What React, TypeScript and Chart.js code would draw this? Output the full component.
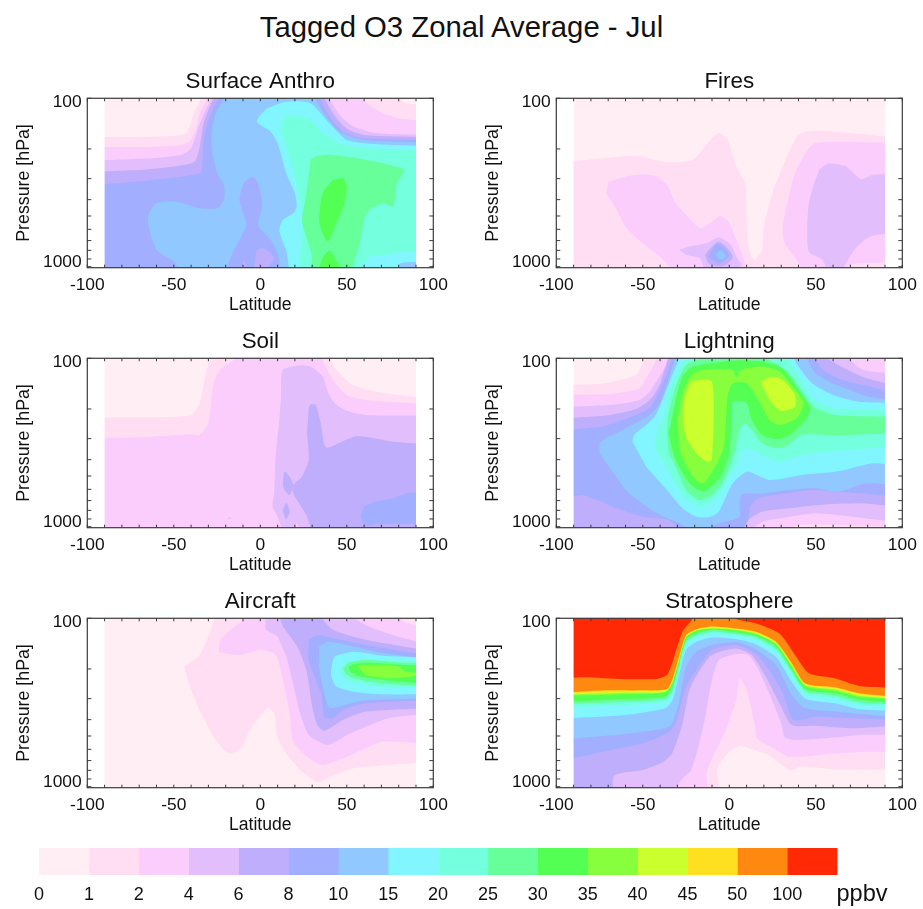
import React, { useEffect, useRef } from "react";
import { Chart, registerables } from "chart.js";

Chart.register(...registerables);
Chart.defaults.font.family = '"Liberation Sans", Arial, sans-serif';
Chart.defaults.color = "#111";

const mainTitle = "Tagged O3 Zonal Average - Jul";
const bandColors = ["#FFEEF3", "#FFDDF2", "#FACDFC", "#E3BEFC", "#BFAEFC", "#A2AEFF", "#90C8FF", "#82F6FF", "#74FFDE", "#66FF99", "#52FF52", "#88FF3D", "#CCFF2E", "#FFE020", "#FF8810", "#FF2A05"];
const bandLabels = ["0", "1", "2", "4", "6", "8", "10", "15", "20", "25", "30", "35", "40", "45", "50", "100", "ppbv"];
const barSlots = [0, 1, 2, 3, 4, 5, 6, 7, 8, 9, 10, 11, 12, 13, 14, 15, 16.5];
const latTicks = [-100, -90, -80, -70, -60, -50, -40, -30, -20, -10, 0, 10, 20, 30, 40, 50, 60, 70, 80, 90, 100];
const pressureTicks = [100, 200, 300, 400, 500, 600, 700, 800, 900, 1000];
const pressureLabels = [100, 1000];
const surfacePressure = 1014;
const domainEdge = 90;

// Contour regions, flat lists of latitude, pressure (hPa) pairs.
const full = [-95, 90, 95, 90, 95, 1100, -95, 1100];

const anthro1 = [-95, 170, -69, 170, -48, 167, -42, 158, -39, 128, -36, 110, -32, 90, 79, 90, 83, 106, 95, 110, 95, 1100, -95, 1100];
const anthro2 = [-95, 195, -67, 195, -48, 191, -41, 181, -37, 151, -35, 123, -28, 90, 52, 90, 67, 117, 79, 131, 95, 136, 95, 1100, -95, 1100];
const anthro3 = [-95, 234, -63, 227, -46, 217, -40, 198, -36, 151, -33, 126, -26, 90, 37, 90, 46, 126, 54, 147, 67, 161, 95, 165, 95, 1100, -95, 1100];
const anthro4 = [-95, 273, -69, 266, -48, 252, -38, 238, -35, 194, -33, 144, -30, 117, -25, 90, 35, 90, 42, 123, 50, 151, 60, 165, 95, 170, 95, 1100, -95, 1100];
const anthro5 = [-95, 327, -73, 313, -54, 299, -40, 285, -34, 273, -33, 185, -30, 134, -22, 90, 32, 90, 40, 128, 48, 158, 60, 173, 95, 177, 95, 1100, -95, 1100];
const anthro6 = [-17, 90, -25, 117, -28, 154, -28, 203, -25, 279, -21, 327, -21, 401, -25, 450, -35, 450, -48, 411, -60, 420, -65, 505, -64, 605, -60, 796, -50, 934, -45, 1100, 95, 1100, 95, 183, 60, 177, 46, 158, 38, 128, 29, 90];
const anthro5b = [-20, 1100, -17, 872, -9, 605, -8, 553, -12, 401, -9, 313, -4, 292, -1, 327, 1, 430, -1, 528, -1, 579, 6, 694, 10, 833, 11, 955, 10, 1100];
const anthro4b = [-4, 1100, -3, 912, -2, 796, 2, 778, 8, 892, 1, 1100];
const anthro4c = [-11, 1100, -10, 934, -9, 934, -8, 1100];
const anthro7 = [95, 192, 63, 186, 50, 177, 40, 141, 29, 107, 15, 105, 3, 117, -2, 138, 6, 158, 10, 185, 15, 279, 20, 367, 21, 440, 19, 482, 13, 528, 11, 605, 13, 710, 15, 796, 17, 1100, 79, 1100, 81, 955, 95, 934];
const anthro8 = [12, 134, 17, 126, 29, 134, 36, 161, 48, 189, 61, 198, 95, 203, 95, 833, 83, 814, 73, 852, 63, 872, 59, 977, 58, 1100, 24, 1100, 23, 912, 24, 634, 24, 505, 23, 401, 20, 292, 16, 212, 12, 158];
const anthro9 = [29, 232, 33, 220, 42, 217, 61, 232, 83, 266, 79, 320, 77, 440, 75, 435, 71, 420, 63, 460, 60, 528, 57, 760, 52, 1100, 28, 1100, 30, 912, 29, 796, 26, 634, 24, 528, 26, 401, 28, 292];
const anthro10a = [42, 305, 48, 299, 50, 342, 48, 440, 43, 579, 39, 710, 36, 634, 34, 528, 36, 367, 42, 305];
const anthro10b = [33, 1100, 36, 892, 40, 803, 45, 955, 46, 1100];

const fires1 = [-95, 238, -77, 229, -54, 220, -35, 240, -21, 232, -11, 177, -6, 161, -1, 177, 4, 254, 9, 320, 10, 528, 11, 760, 13, 872, 15, 912, 19, 796, 20, 579, 25, 367, 31, 254, 40, 165, 50, 156, 95, 170, 95, 1100, -95, 1100];
const fires2a = [-70, 313, -60, 292, -50, 283, -42, 292, -36, 327, -31, 420, -23, 516, -17, 592, -11, 553, -5, 499, 0, 553, 4, 694, 8, 872, 10, 1100, -31, 1100, -40, 872, -50, 727, -60, 579, -65, 460, -71, 367];
const fires2b = [95, 184, 50, 184, 44, 212, 38, 279, 34, 401, 31, 579, 32, 727, 39, 912, 44, 1100, 67, 1100, 71, 964, 95, 947];
const fires3a = [-29, 796, -23, 760, -13, 727, -6, 672, 1, 743, 4, 872, 7, 977, 2, 1100, -14, 1100, -17, 892, -25, 852];
const fires3b = [52, 266, 57, 244, 67, 252, 71, 273, 76, 302, 83, 285, 95, 283, 95, 627, 81, 665, 73, 778, 64, 1100, 57, 1100, 54, 912, 46, 814, 45, 579, 46, 420, 49, 320];
const fires4 = [-14, 852, -10, 760, -6, 710, -1, 778, 2, 880, -2, 977, -7, 995, -12, 955, -14, 852];
const fires5 = [-12, 872, -7, 727, 0, 852, -6, 955, -12, 872];
const fires6 = [-8, 852, -5, 796, -2, 872, -5, 905, -8, 852];

const soil1 = [-95, 227, -83, 224, -63, 224, -40, 217, -35, 185, -31, 117, -27, 90, 40, 90, 42, 110, 52, 141, 67, 158, 95, 173, 95, 1100, -95, 1100];
const soil2 = [-95, 299, -63, 292, -40, 283, -35, 285, -30, 244, -27, 141, -23, 117, -7, 90, 33, 90, 42, 134, 50, 165, 61, 177, 95, 187, 95, 1100, -95, 1100];
const soil3 = [12, 138, 13, 117, 23, 110, 29, 112, 36, 128, 39, 158, 43, 184, 50, 205, 61, 217, 95, 219, 95, 1100, 13, 1100, 12, 995, 10, 872, 7, 760, 8, 634, 9, 367, 11, 232, 12, 169];
const soil2b = [19, 1100, 21, 955, 24, 1100];
const soil4 = [28, 198, 29, 189, 32, 189, 35, 244, 37, 327, 39, 340, 54, 292, 61, 292, 77, 313, 95, 322, 95, 1100, 30, 1100, 27, 872, 23, 743, 19, 634, 19, 565, 24, 505, 28, 401, 27, 279];
const soil4b = [13, 565, 14, 471, 17, 505, 19, 565, 17, 648, 14, 605, 13, 565];
const soil4c = [13, 796, 15, 720, 17, 814, 15, 905, 14, 872, 13, 796];
const soil3b = [-19, 892, -18, 875, -17, 892, -18, 905, -19, 892];
const soil5 = [58, 872, 60, 760, 67, 710, 77, 678, 85, 634, 95, 627, 95, 964, 69, 964, 60, 995];

const light1 = [-95, 144, -73, 141, -54, 126, -50, 107, -45, 90, 95, 90, 95, 1100, -95, 1100];
const light2 = [-95, 165, -69, 163, -52, 151, -48, 131, -43, 107, -40, 90, 95, 90, 95, 1100, -95, 1100];
const light2b = [95, 1100, 30, 1100, 38, 990, 50, 970, 70, 985, 95, 1000];
const light3 = [-95, 195, -67, 189, -52, 177, -46, 158, -41, 131, -36, 107, -35, 90, 64, 90, 77, 117, 95, 123, 95, 934, 71, 872, 50, 833, 35, 872, 19, 934, 10, 1100, -95, 1100];
const light4 = [-95, 227, -69, 217, -53, 198, -45, 173, -40, 141, -34, 90, 50, 90, 61, 107, 79, 131, 95, 144, 95, 760, 77, 727, 52, 743, 35, 778, 19, 814, 11, 912, 7, 1100, -95, 1100];
const light5 = [-95, 266, -73, 254, -56, 222, -46, 198, -41, 161, -36, 123, -32, 90, 46, 90, 54, 117, 65, 134, 81, 147, 95, 161, 95, 665, 77, 634, 61, 620, 48, 605, 33, 634, 17, 678, 12, 760, 11, 912, 6, 1100, -27, 1100, -35, 912, -50, 872, -65, 778, -85, 648, -95, 686];
const light6 = [-75, 320, -73, 305, -58, 254, -46, 217, -40, 184, -36, 141, -30, 90, 42, 90, 50, 123, 60, 141, 81, 169, 95, 177, 95, 565, 79, 553, 63, 620, 50, 592, 38, 600, 20, 634, 7, 648, 6, 760, 6, 872, 2, 912, -6, 955, -10, 1014, -10, 1100, -19, 1100, -29, 955, -42, 833, -58, 634, -67, 482, -75, 367];
const light7 = [-56, 313, -55, 285, -48, 249, -43, 222, -38, 169, -33, 126, -27, 90, 35, 90, 40, 112, 48, 141, 60, 165, 75, 181, 95, 184, 95, 430, 83, 420, 62, 471, 42, 493, 23, 528, 11, 471, 7, 493, 2, 553, -2, 665, -6, 814, -11, 872, -19, 872, -27, 778, -36, 605, -48, 440];
const light8 = [-43, 342, -42, 285, -38, 222, -35, 158, -29, 117, -23, 90, 31, 90, 37, 112, 42, 138, 48, 173, 60, 198, 95, 203, 95, 335, 61, 355, 42, 375, 29, 411, 19, 375, 11, 342, 7, 358, 4, 440, 0, 505, -4, 605, -10, 710, -17, 760, -27, 648, -36, 450];
const light9 = [-36, 279, -35, 212, -30, 138, -25, 110, -17, 101, -2, 101, 10, 97, 23, 102, 36, 128, 44, 169, 50, 198, 61, 217, 95, 222, 95, 279, 61, 287, 42, 285, 33, 332, 27, 342, 19, 320, 13, 266, 9, 244, 6, 266, 3, 367, 0, 440, -4, 553, -10, 648, -17, 694, -25, 605, -31, 440, -35, 367];
const light10 = [-34, 254, -31, 177, -27, 128, -21, 112, 4, 103, 19, 105, 31, 115, 40, 154, 47, 198, 44, 232, 35, 285, 28, 302, 19, 285, 13, 232, 10, 184, 2, 181, 1, 254, 0, 367, -5, 505, -15, 620, -23, 553, -31, 401, -35, 279, -34, 254];
const light11 = [-30, 232, -27, 161, -22, 126, -15, 117, 2, 117, 4, 130, 7, 117, 19, 112, 29, 120, 38, 154, 43, 184, 39, 227, 29, 249, 23, 232, 17, 177, 10, 141, 2, 141, -1, 169, -3, 335, -7, 420, -15, 553, -21, 505, -28, 367, -30, 232];
const light12a = [-27, 232, -26, 177, -22, 138, -10, 138, -10, 401, -13, 411, -19, 367, -25, 292, -27, 232];
const light12b = [18, 138, 24, 129, 31, 134, 38, 165, 38, 195, 30, 205, 24, 181, 18, 138];

const air1 = [-44, 194, -35, 165, -30, 128, -25, 90, 95, 90, 95, 717, 54, 778, 40, 872, 33, 934, 23, 796, 15, 634, 10, 505, 8, 367, 4, 342, -6, 460, -11, 592, -17, 634, -21, 605, -27, 505, -35, 350, -40, 266, -44, 194];
const air2 = [-24, 158, -23, 134, -17, 117, -11, 105, -5, 90, 79, 90, 83, 105, 95, 112, 95, 553, 71, 540, 61, 592, 50, 665, 36, 743, 27, 665, 19, 540, 17, 367, 13, 232, 9, 165, 0, 154, -11, 165, -19, 163];
const air3 = [3, 117, 3, 90, 48, 90, 61, 110, 77, 126, 95, 141, 95, 371, 75, 389, 61, 440, 50, 493, 39, 565, 28, 493, 23, 367, 19, 244, 15, 169, 10, 128];
const air4 = [10, 90, 32, 90, 42, 117, 61, 134, 95, 154, 95, 342, 61, 358, 48, 401, 37, 467, 33, 430, 30, 335, 27, 212, 22, 151, 13, 112];
const air5 = [28, 134, 33, 126, 42, 131, 61, 144, 95, 165, 95, 307, 61, 320, 48, 350, 42, 392, 37, 384, 35, 279, 28, 177, 28, 134];
const air6 = [34, 147, 39, 138, 54, 147, 71, 161, 95, 173, 95, 299, 61, 307, 49, 327, 40, 340, 37, 279, 34, 194, 34, 147];
const air7 = [41, 198, 43, 169, 54, 158, 71, 167, 95, 171, 95, 283, 71, 283, 54, 273, 44, 254, 41, 222, 41, 198];
const air8 = [47, 194, 50, 181, 61, 175, 77, 177, 95, 181, 95, 260, 71, 257, 52, 238, 47, 217, 47, 194];
const air9 = [48, 198, 51, 184, 61, 177, 79, 183, 95, 184, 95, 252, 71, 244, 54, 227, 49, 212, 48, 198];
const air10 = [51, 195, 54, 187, 65, 184, 81, 189, 95, 192, 95, 244, 71, 232, 58, 222, 52, 208, 51, 195];
const air11 = [56, 191, 67, 189, 80, 194, 84, 207, 95, 212, 95, 217, 75, 227, 61, 217, 56, 191];

const strat1 = [-95, 1100, -5, 1100, -7, 796, -2, 648, 6, 572, 17, 620, 23, 648, 35, 796, 42, 760, 61, 789, 95, 796, 95, 90, -95, 90];
const strat2 = [-95, 1100, -12, 1100, -13, 814, -2, 460, 4, 305, 6, 229, 10, 266, 15, 440, 16, 516, 24, 579, 35, 665, 61, 634, 81, 620, 95, 620, 95, 90, -95, 90];
const strat3 = [-95, 1100, -33, 1100, -27, 892, -22, 796, -15, 440, -10, 232, -6, 177, 4, 163, 11, 165, 17, 203, 23, 279, 30, 420, 32, 505, 38, 528, 61, 510, 75, 493, 95, 493, 95, 90, -95, 90];
const strat4 = [-95, 1100, -67, 1100, -67, 872, -61, 825, -50, 796, -38, 710, -33, 634, -27, 420, -23, 266, -17, 203, -10, 165, 4, 151, 13, 165, 21, 222, 29, 320, 36, 430, 50, 435, 71, 450, 95, 435, 95, 90, -95, 90];
const strat5 = [-95, 694, -73, 620, -50, 553, -36, 482, -31, 420, -25, 254, -19, 203, -10, 154, 4, 144, 15, 161, 23, 203, 31, 279, 37, 401, 50, 384, 71, 392, 95, 401, 95, 90, -95, 90];
const stratLats = [-95, -60, -37, -33, -29, -25, -19, -10, 4, 15, 27, 36, 44, 61, 75, 95];
const stratP6 = [522, 486, 450, 420, 313, 194, 158, 144, 139, 153, 189, 285, 342, 358, 370, 384];
const stratP7 = [393, 375, 342, 309, 217, 154, 138, 130, 133, 142, 170, 238, 300, 320, 347, 355];
const stratP8 = [337, 328, 313, 282, 206, 144, 130, 124, 127, 134, 158, 217, 282, 299, 327, 335];
const stratP9 = [322, 314, 302, 268, 192, 138, 126, 120, 124, 130, 152, 206, 271, 288, 315, 324];
const stratP10 = [313, 302, 292, 257, 184, 134, 123, 117, 121, 127, 147, 201, 264, 279, 305, 316];
const stratP11 = [289, 283, 276, 244, 177, 130, 119, 115, 118, 124, 143, 194, 254, 270, 293, 302];
const stratP12 = [284, 277, 273, 240, 175, 129, 118, 115, 117, 123, 141, 190, 250, 265, 288, 300];
const stratP13 = [279, 273, 267, 237, 172, 127, 117, 113, 116, 122, 139, 188, 247, 260, 283, 296];
const strat14 = [-95, 275, -73, 268, -54, 268, -36, 264, -33, 232, -29, 169, -25, 126, -19, 116, -10, 112, 4, 115, 15, 120, 27, 138, 36, 184, 44, 244, 61, 257, 75, 279, 95, 292, 95, 90, -95, 90];
const strat15a = [-95, 227, -83, 224, -61, 230, -42, 229, -36, 217, -33, 184, -27, 120, -21, 100, -20, 90, -95, 90];
const strat15b = [3, 90, 4, 101, 15, 107, 29, 123, 38, 165, 46, 212, 61, 227, 75, 252, 95, 258, 95, 90];

function above(ps: number[]) {
  const out: number[] = [];
  stratLats.forEach((lat, i) => out.push(lat, ps[i]));
  return out.concat([95, 90, -95, 90]);
}

type Region = [number, number[]];
const panels: { title: string; col: number; row: number; regions: Region[] }[] = [
  { title: "Surface Anthro", col: 0, row: 0, regions: [[0, full], [1, anthro1], [2, anthro2], [3, anthro3], [4, anthro4], [5, anthro5], [6, anthro6], [5, anthro5b], [4, anthro4b], [4, anthro4c], [7, anthro7], [8, anthro8], [9, anthro9], [10, anthro10a], [10, anthro10b]] },
  { title: "Fires", col: 1, row: 0, regions: [[0, full], [1, fires1], [2, fires2a], [2, fires2b], [3, fires3a], [3, fires3b], [4, fires4], [5, fires5], [6, fires6]] },
  { title: "Soil", col: 0, row: 1, regions: [[0, full], [1, soil1], [2, soil2], [3, soil3], [2, soil2b], [3, soil3b], [4, soil4], [4, soil4b], [4, soil4c], [5, soil5]] },
  { title: "Lightning", col: 1, row: 1, regions: [[0, full], [1, light1], [2, light2], [1, light2b], [3, light3], [4, light4], [5, light5], [6, light6], [7, light7], [8, light8], [9, light9], [10, light10], [11, light11], [12, light12a], [12, light12b]] },
  { title: "Aircraft", col: 0, row: 2, regions: [[0, full], [1, air1], [2, air2], [3, air3], [4, air4], [5, air5], [6, air6], [7, air7], [8, air8], [9, air9], [10, air10], [11, air11]] },
  { title: "Stratosphere", col: 1, row: 2, regions: [[0, full], [1, strat1], [2, strat2], [3, strat3], [4, strat4], [5, strat5], [6, above(stratP6)], [7, above(stratP7)], [8, above(stratP8)], [9, above(stratP9)], [10, above(stratP10)], [11, above(stratP11)], [12, above(stratP12)], [13, above(stratP13)], [14, strat14], [15, strat15a], [15, strat15b]] },
];

function toPoints(flat: number[]) {
  const pts: { x: number; y: number }[] = [];
  for (let i = 0; i < flat.length; i += 2) {
    const p = { x: flat[i], y: flat[i + 1] };
    pts.push(p);
    // Vertices outside the plotted domain are sharp corners of the closed outline.
    if (Math.abs(p.x) >= 95 || p.y <= 90 || p.y >= 1100) pts.push({ ...p });
  }
  return pts;
}

const frameColor = "#3a3a3a";
const panelPlugin = {
  id: "panelFrame",
  afterDatasetsDraw(chart: any) {
    const { ctx, chartArea: a, scales } = chart;
    const x = scales.x;
    const y = scales.y;
    ctx.save();
    ctx.fillStyle = "#fff";
    ctx.fillRect(a.left, a.top, x.getPixelForValue(-domainEdge) - a.left, a.bottom - a.top);
    const rx = x.getPixelForValue(domainEdge);
    ctx.fillRect(rx, a.top, a.right - rx, a.bottom - a.top);
    ctx.strokeStyle = frameColor;
    ctx.lineWidth = 1.2;
    ctx.strokeRect(a.left, a.top, a.right - a.left, a.bottom - a.top);
    ctx.lineWidth = 1;
    ctx.beginPath();
    latTicks.forEach((v) => {
      const px = x.getPixelForValue(v);
      ctx.moveTo(px, a.top);
      ctx.lineTo(px, a.top + 3);
      ctx.moveTo(px, a.bottom);
      ctx.lineTo(px, a.bottom - 3);
    });
    pressureTicks.forEach((v) => {
      const py = y.getPixelForValue(v);
      ctx.moveTo(a.left, py);
      ctx.lineTo(a.left + 4, py);
      ctx.moveTo(a.right, py);
      ctx.lineTo(a.right - 4, py);
    });
    ctx.stroke();
    ctx.fillStyle = "#111";
    ctx.font = '17.4px "Liberation Sans", Arial, sans-serif';
    ctx.textAlign = "right";
    ctx.textBaseline = "middle";
    pressureLabels.forEach((v, i) => {
      ctx.fillText(String(v), a.left - 5.6, y.getPixelForValue(v) + (i === 0 ? 3.6 : -4.8));
    });
    ctx.restore();
  },
};

const W = 460;
const H = 260;
const plotLeft = 87.3;
const plotBottom = 207.7;

function makePanel(canvas: HTMLCanvasElement, panel: (typeof panels)[number]) {
  const n = panel.regions.length;
  return new Chart(canvas, {
    type: "line",
    data: {
      datasets: panel.regions.map(([level, flat], i) => ({
        data: toPoints(flat),
        fill: "shape",
        order: n - i,
        backgroundColor: bandColors[level],
        borderColor: "transparent",
        borderWidth: 0,
        pointRadius: 0,
        tension: 0.22,
        capBezierPoints: false,
      })),
    } as any,
    options: {
      responsive: false,
      animation: false,
      events: [],
      layout: { padding: { right: 26.7, left: 0, top: 0, bottom: 0 } },
      plugins: {
        legend: { display: false },
        tooltip: { enabled: false },
        title: {
          display: true,
          fullSize: false,
          text: panel.title,
          color: "#111",
          font: { size: 22.4, weight: "normal" },
          padding: { top: 8.3, bottom: 3.1 },
        },
      },
      scales: {
        x: {
          type: "linear",
          min: -100,
          max: 100,
          grid: { display: false, drawTicks: false },
          border: { display: false },
          ticks: { stepSize: 50, font: { size: 17.4 }, color: "#111", padding: 7, maxRotation: 0, autoSkip: false },
          title: { display: true, text: "Latitude", color: "#111", font: { size: 17.6 }, padding: { top: 0, bottom: 4.5 } },
          afterFit: (s: any) => { s.height = H - plotBottom; },
        },
        y: {
          type: "logarithmic",
          reverse: true,
          min: 100,
          max: surfacePressure,
          grid: { display: false, drawTicks: false },
          border: { display: false },
          ticks: { display: false },
          title: { display: true, text: "Pressure [hPa]", color: "#111", font: { size: 17.8 }, padding: { top: 13.5, bottom: 0 } },
          afterFit: (s: any) => { s.width = plotLeft; },
        },
      },
    } as any,
    plugins: [panelPlugin],
  });
}

function makeColorBar(canvas: HTMLCanvasElement) {
  return new Chart(canvas, {
    type: "bar",
    data: {
      labels: [""],
      datasets: bandColors.map((c) => ({ data: [1], backgroundColor: c, borderWidth: 0, barPercentage: 1, categoryPercentage: 1 })),
    },
    options: {
      indexAxis: "y",
      responsive: false,
      animation: false,
      events: [],
      layout: { padding: { left: 39, right: 36, top: 8, bottom: 0 } },
      plugins: { legend: { display: false }, tooltip: { enabled: false } },
      scales: {
        x: {
          type: "linear",
          stacked: true,
          min: 0,
          max: 17,
          grid: { display: false, drawTicks: false },
          border: { display: false },
          afterBuildTicks: (s: any) => { s.ticks = barSlots.map((value) => ({ value })); },
          ticks: {
            autoSkip: false,
            maxRotation: 0,
            padding: 9,
            color: "#111",
            font: (ctx: any) => (ctx.index === bandLabels.length - 1 ? { size: 23.6, lineHeight: 0.915 } : { size: 18 }),
            callback: (_v: any, i: number) => bandLabels[i],
          },
          afterFit: (s: any) => { s.height = 34; },
        },
        y: { stacked: true, display: false },
      },
    } as any,
  });
}

const colLeft = [0, 469.4];
const rowTop = [60, 320, 580];

export default function App() {
  const panelRefs = useRef<(HTMLCanvasElement | null)[]>([]);
  const barRef = useRef<HTMLCanvasElement | null>(null);
  useEffect(() => {
    const charts = panels.map((p, i) => makePanel(panelRefs.current[i]!, p));
    charts.push(makeColorBar(barRef.current!) as any);
    return () => charts.forEach((c) => c.destroy());
  }, []);
  return (
    <div style={{ position: "absolute", left: 0, top: 0, width: 923, height: 909, background: "#fff", overflow: "hidden" }}>
      <div style={{ position: "absolute", left: 0, top: 9, width: 923, textAlign: "center", font: '29.3px/36px "Liberation Sans", Arial, sans-serif', color: "#111" }}>{mainTitle}</div>
      {panels.map((p, i) => (
        <canvas
          key={p.title}
          ref={(el) => { panelRefs.current[i] = el; }}
          width={W}
          height={H}
          style={{ position: "absolute", left: colLeft[p.col], top: rowTop[p.row], width: W, height: H }}
        />
      ))}
      <canvas ref={barRef} width={923} height={69} style={{ position: "absolute", left: 0, top: 840, width: 923, height: 69 }} />
    </div>
  );
}
